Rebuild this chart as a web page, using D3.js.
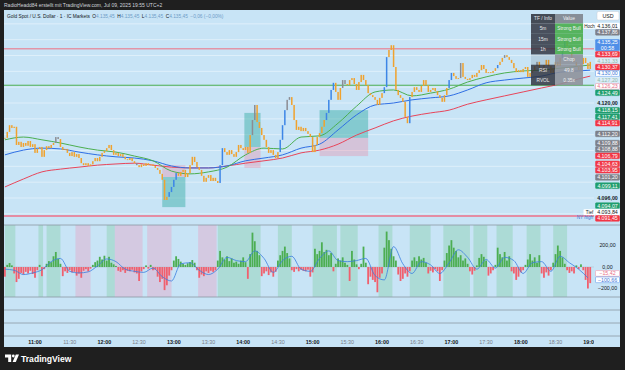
<!DOCTYPE html>
<html>
<head>
<meta charset="utf-8">
<script src="https://cdn.jsdelivr.net/npm/d3@7"></script>
<style>
html, body { margin: 0; padding: 0; background: #1f1f1f; }
svg { display: block; font-family: "Liberation Sans", Arial, sans-serif; }
</style>
</head>
<body>
<svg width="625" height="370"></svg>
<script>
// 2-minute closes starting at 10:34
const candleStart = '10:34';
const closes = [
  4111.2, 4112.7, 4114.4, 4113.7, 4114.0, 4109.4, 4110.2, 4108.9, 4109.9, 4109.2,
  4110.4, 4108.9, 4109.6, 4107.4, 4108.4, 4108.9, 4106.4, 4108.1, 4109.1, 4108.6,
  4109.4, 4109.9, 4111.4, 4110.9, 4108.9, 4108.1, 4108.4, 4107.4, 4106.6, 4107.6,
  4106.4, 4107.1, 4106.1, 4104.8, 4104.3, 4104.8, 4104.1, 4104.5, 4105.3, 4106.1,
  4105.3, 4106.4, 4107.4, 4107.9, 4108.6, 4109.4, 4108.1, 4106.9, 4107.4, 4106.6,
  4107.1, 4106.4, 4105.8, 4105.6, 4106.1, 4105.3, 4104.8, 4104.3, 4103.8, 4104.5,
  4104.1, 4104.8, 4104.3, 4104.5, 4104.1, 4103.6, 4103.1, 4102.1, 4100.6, 4095.5,
  4096.3, 4097.5, 4098.8, 4100.6, 4102.3, 4101.6, 4102.6, 4103.1, 4101.3, 4102.3,
  4104.3, 4106.4, 4105.1, 4103.8, 4103.1, 4101.6, 4100.1, 4101.1, 4101.8, 4100.3,
  4101.1, 4100.3, 4099.8, 4104.3, 4108.6, 4107.6, 4106.9, 4108.1, 4107.1, 4106.4,
  4107.6, 4109.4, 4108.6, 4108.1, 4108.9, 4107.4, 4111.9, 4115.7, 4119.5, 4115.2,
  4113.7, 4111.9, 4110.7, 4108.9, 4107.4, 4108.1, 4106.9, 4106.1, 4107.6, 4110.7,
  4114.4, 4118.2, 4120.8, 4121.5, 4119.5, 4115.7, 4113.2, 4114.0, 4112.9, 4113.7,
  4112.9, 4112.2, 4111.4, 4107.6, 4109.4, 4111.4, 4112.4, 4114.0, 4115.7, 4117.5,
  4120.8, 4123.3, 4125.1, 4122.8, 4120.8, 4123.8, 4125.8, 4124.8, 4124.5, 4125.8,
  4126.3, 4124.8, 4123.3, 4125.3, 4127.1, 4125.8, 4124.5, 4122.5, 4122.0, 4121.5,
  4120.8, 4119.5, 4121.3, 4122.5, 4124.0, 4131.6, 4133.4, 4134.6, 4129.1, 4123.3,
  4122.0, 4121.3, 4120.3, 4116.5, 4114.9, 4121.5, 4122.8, 4124.0, 4123.3, 4122.8,
  4124.3, 4125.8, 4124.5, 4122.8, 4123.3, 4123.8, 4123.0, 4122.0, 4121.3, 4120.3,
  4122.0, 4123.8, 4125.8, 4127.6, 4126.8, 4126.1, 4126.3, 4130.1, 4126.6, 4126.1,
  4125.8, 4126.3, 4127.1, 4126.6, 4127.6, 4128.3, 4129.6, 4128.6, 4127.6, 4127.8,
  4127.6, 4128.1, 4128.8, 4129.6, 4130.4, 4131.4, 4132.1, 4131.6, 4130.9, 4130.1,
  4128.8, 4127.8, 4128.3, 4127.8, 4128.6, 4129.1, 4126.6, 4127.6, 4128.3, 4129.3,
  4130.4, 4128.8, 4127.8, 4129.6, 4130.9, 4129.3, 4127.6, 4128.8, 4130.4, 4129.3,
  4131.4, 4133.9, 4135.9, 4134.4, 4132.6, 4131.4, 4130.4, 4129.3, 4128.3, 4129.8,
  4131.4, 4130.1, 4128.6, 4130.4
];
const blueCandles = [71, 72, 73, 74, 93, 94, 119, 120, 121, 139, 140, 141, 142, 164, 165, 175, 192, 193, 213, 241, 242];
const grayCandles = [22, 23, 57, 107, 108, 122, 123, 146, 147, 197, 216, 230];

// moving averages
const maTimes = ['10:34', '10:50', '11:06', '11:22', '11:38', '11:54', '12:10', '12:26', '12:42', '12:58',
  '13:14', '13:30', '13:46', '14:02', '14:18', '14:34', '14:50', '15:06', '15:22', '15:38', '15:54',
  '16:10', '16:26', '16:42', '16:58', '17:14', '17:30', '17:46', '18:02', '18:18', '18:34', '18:50', '19:00'];
const emaFast = [4110.7, 4111.4, 4110.7, 4109.9, 4108.9, 4108.1, 4107.6, 4106.6, 4105.4, 4102.8,
  4102.1, 4102.6, 4103.8, 4106.9, 4108.6, 4108.4, 4111.4, 4111.7, 4114.9, 4119.2, 4122.8,
  4123.3, 4121.8, 4122.5, 4123.5, 4125.3, 4126.6, 4127.6, 4128.1, 4128.3, 4128.8, 4129.3, 4129.6];
const emaMid = [4106.9, 4108.1, 4108.6, 4108.4, 4107.6, 4106.9, 4106.4, 4106.1, 4105.4, 4104.1,
  4103.6, 4103.6, 4104.1, 4105.4, 4106.1, 4106.9, 4108.6, 4109.6, 4113.2, 4117.0, 4119.5,
  4120.0, 4120.8, 4121.3, 4121.8, 4123.3, 4125.1, 4125.8, 4126.3, 4126.8, 4127.8, 4128.1, 4128.3];
const emaSlow = [4098.8, 4100.8, 4102.6, 4103.3, 4103.8, 4104.3, 4104.6, 4104.8, 4104.3, 4103.8,
  4103.6, 4103.6, 4104.1, 4104.8, 4105.4, 4106.1, 4107.4, 4108.1, 4109.6, 4111.9, 4113.7,
  4115.5, 4116.7, 4117.5, 4118.2, 4119.7, 4120.8, 4121.8, 4122.8, 4123.8, 4124.8, 4126.1, 4126.8];

// horizontal levels
const levelPrices = [4133.69, 4124.49, 4091.45];
const levelKinds = ['res', 'sup', 'ny'];

// position tools
const posFrom = ['12:50', '14:01', '15:06'];
const posTo = ['13:10', '14:15', '15:48'];
const posEntry = [4101.3, 4108.9, 4111.2];
const posStop = [4104.3, 4103.6, 4106.6];
const posTarget = [4093.7, 4117.5, 4118.2];

// oscillator (2-minute bars from 10:34), signal every 8 minutes
const histStart = '10:34';
const histValues = [
  -90, 20, 37, 15, -60, -140, -110, -55, -70, -45,
  -60, -35, -65, -100, -30, 20, -85, -20, 30, 55,
  45, 100, 140, 75, 30, -85, -40, -55, -30, -50,
  -45, -80, -60, -100, -35, -20, -40, -15, 20, 45,
  60, 95, 70, 105, 60, 95, 40, 25, 10, -35,
  -45, -30, -55, -35, -40, -25, -50, -60, -130, -40,
  -20, 15, -15, 20, -30, -25, -90, -140, -110, -215,
  -170, -80, -30, 60, 100, 75, 50, 30, 20, 35,
  45, 65, 40, -30, -100, -70, -85, -40, -55, -35,
  -45, -30, 60, 150, 90, 70, 100, 55, 80, 40,
  50, 30, 60, 90, 45, -110, 120, 320, 240, 150,
  110, -85, -60, -40, -75, -50, -90, -45, 60, 110,
  150, 190, 130, 80, -30, -45, -20, -40, -25, -35,
  -40, -25, -90, -50, 170, 120, 150, 230, 140, 160,
  110, 130, -40, 30, 80, 60, 90, 40, 20, -130,
  150, 70, 25, -20, 30, 190, 40, -160, -90, -120,
  -140, -235, -100, -60, 180, 330, 250, 170, 100, 60,
  -70, -130, -110, -60, -90, -40, 60, 90, 55, 100,
  70, 85, 40, -60, -35, -50, -20, -40, -130, -30,
  60, 130, 200, 250, 180, 150, 90, 110, 60, 80,
  30, -40, -70, -35, 15, 85, 120, 95, 60, -80,
  -60, -30, 20, 180, 120, 90, 140, 60, 100, -40,
  -60, -120, -90, -50, -30, 20, 70, 120, 60, 90,
  40, 110, -60, -100, -50, -80, -30, 40, 120, 200,
  150, 90, 30, -30, -55, -40, -60, 15, -20, 25,
  -30, -120, -200, -150
];
const signalStart = '10:34';
const signalValues = [-20, -30, -70, -55, -25, 50, 80, -40, -55, -45, 10, 75, 50, -20, -40, -50,
  -10, -90, -130, 30, 40, -30, -70, -20, 90, 60, 50, 150, 80, -50, 60, 100, -20, -40, 80, 150,
  60, 50, 60, 80, -80, -120, 190, 30, -60, 50, 20, -60, 40, 160, 90, -20, 70, -10, 90, 60,
  -60, 40, 50, -40, 100, 40, -20, -100];
const bandFrom = ['10:34', '11:03', '11:10', '11:35', '12:02', '12:09', '12:37', '13:21', '13:38', '14:30',
  '15:00', '15:24', '15:57', '16:24', '16:53', '17:19', '17:39', '18:05', '18:28'];
const bandTo = ['10:43', '11:07', '11:22', '11:48', '12:09', '12:33', '12:58', '13:37', '14:15', '14:42',
  '15:21', '15:39', '16:09', '16:42', '17:16', '17:31', '17:53', '18:17', '18:40'];
const bandKind = ['bull', 'bull', 'bull', 'bear', 'bull', 'bear', 'bear', 'bear', 'bull', 'bull',
  'bull', 'bull', 'bull', 'bull', 'bull', 'bull', 'bull', 'bull', 'bull'];
const oscTicks = [200, 0, -200];
const oscLast = [-15.42, -100.66];
const oscLastKinds = ['pinkring', 'ring'];

// price scale labels
const axisLabelPrices = [4136.01, 4137.86, 4135.25, 4133.69, 4131.33, 4130.37, 4130.00, 4127.20, 4126.23,
  4124.49, 4120.00, 4118.15, 4117.41, 4114.91, 4112.20, 4109.88, 4108.88, 4106.79, 4104.63, 4103.95,
  4101.20, 4099.11, 4096.00, 4094.07, 4093.84, 4091.45];
const axisLabelKinds = ['high', 'gray', 'last', 'red', 'faint', 'red', 'ring', 'faint', 'pinkring',
  'green', 'tick', 'green', 'green', 'red', 'gray', 'gray', 'gray', 'red', 'red', 'red',
  'gray', 'green', 'tick', 'green', 'low', 'red'];
const axisLabelTags = ['Hoch', '', '', '', '', '', '', '', '', '', '', '', '', '', '', '', '', '', '',
  '', '', '', '', '', 'Tief', 'NY high'];

// info table
const tableKeys = ['5m', '15m', '1h', '', 'RSI', 'RVOL'];
const tableValues = ['Strong Bull', 'Strong Bull', 'Strong Bull', 'Chop', '49.8', '0.35x'];
const tableStates = ['bull', 'bull', 'bull', 'neutral', 'neutral', 'neutral'];

const ohlc = ['4.135,45', '4.135,45', '4.135,45', '4.135,45'];

const svg = d3.select('svg');
const at = s => new Date(`2025-07-09T${s.length === 5 ? s + ':00' : s}`);
const stepTime = (start, minutes, i) => d3.timeMinute.offset(at(start), minutes * i);

const x = d3.scaleTime().domain([at('10:33:12'), at('19:03:16')]).range([4, 594]);
const yP = d3.scaleLinear().domain([4089.18, 4143.5]).range([225, 10]);
const yO = d3.scaleLinear().domain([-279, 391]).range([297, 225]);
const de = d3.formatLocale({ decimal: ',', thousands: '.', grouping: [3], currency: ['', ''] });
const fmt = de.format(',.2f');
const minus = s => s.replace('-', '\u2212');

const bg = '#c8e4f6';
svg.append('rect').attr('width', 625).attr('height', 370).attr('fill', '#1f1f1f');
svg.append('rect').attr('x', 4).attr('y', 10).attr('width', 616).attr('height', 337).attr('fill', bg);

const defs = svg.append('defs');
defs.append('clipPath').attr('id', 'pp').append('rect').attr('x', 4).attr('y', 10).attr('width', 590).attr('height', 215);
defs.append('clipPath').attr('id', 'op').append('rect').attr('x', 4).attr('y', 225).attr('width', 590).attr('height', 72);
defs.append('clipPath').attr('id', 'ta').append('rect').attr('x', 4).attr('y', 336).attr('width', 590).attr('height', 11);

// price pane
const pp = svg.append('g').attr('clip-path', 'url(#pp)');

pp.selectAll('line.grid')
  .data(d3.range(4092, 4144, 4))
  .enter()
  .append('line')
  .attr('class', 'grid')
  .attr('x1', 4).attr('x2', 594)
  .attr('y1', d => yP(d)).attr('y2', d => yP(d))
  .style('stroke', '#e8f4fc')
  .style('stroke-width', '0.7px');

const levelColor = { res: '#ef6f80', sup: '#4caf50', ny: '#ee7088' };
pp.selectAll('line.level')
  .data(levelPrices)
  .enter()
  .append('line')
  .attr('class', 'level')
  .attr('x1', 4).attr('x2', 594)
  .attr('y1', d => yP(d)).attr('y2', d => yP(d))
  .style('stroke', (d, i) => levelColor[levelKinds[i]])
  .style('stroke-width', (d, i) => levelKinds[i] === 'ny' ? '1.4px' : '1px');

posFrom.forEach((from, i) => {
  const x0 = x(at(from));
  const x1 = x(at(posTo[i]));
  pp.append('rect')
    .attr('x', x0).attr('width', x1 - x0)
    .attr('y', yP(Math.max(posEntry[i], posTarget[i])))
    .attr('height', Math.abs(yP(posEntry[i]) - yP(posTarget[i])))
    .style('fill', 'rgba(38,166,154,0.42)');
  pp.append('rect')
    .attr('x', x0).attr('width', x1 - x0)
    .attr('y', yP(Math.max(posEntry[i], posStop[i])))
    .attr('height', Math.abs(yP(posEntry[i]) - yP(posStop[i])))
    .style('fill', 'rgba(242,120,150,0.3)');
});

const maLine = d3.line()
  .x((d, i) => x(at(maTimes[i])))
  .y(d => yP(d))
  .curve(d3.curveMonotoneX);

[[emaSlow, '#e8455a'], [emaMid, '#2f6fe4'], [emaFast, '#4caf50']].forEach(([vals, color]) => {
  pp.append('path')
    .attr('d', maLine(vals))
    .style('fill', 'none')
    .style('stroke', color)
    .style('stroke-width', '1px');
});

const candleColor = i => blueCandles.includes(i) ? '#3d86e6' : grayCandles.includes(i) ? '#8c8c92' : '#f0a22e';
pp.selectAll('rect.candle')
  .data(closes)
  .enter()
  .append('rect')
  .attr('class', 'candle')
  .attr('x', (d, i) => x(stepTime(candleStart, 2, i)) - 0.75)
  .attr('width', 1.5)
  .attr('y', (d, i) => yP(Math.max(d, i ? closes[i - 1] : d)))
  .attr('height', (d, i) => Math.max(0.9, Math.abs(yP(d) - yP(i ? closes[i - 1] : d))))
  .style('fill', (d, i) => candleColor(i));

// oscillator pane
const op = svg.append('g').attr('clip-path', 'url(#op)');
bandFrom.forEach((from, i) => {
  op.append('rect')
    .attr('x', x(at(from))).attr('width', x(at(bandTo[i])) - x(at(from)))
    .attr('y', 225).attr('height', 72)
    .style('fill', bandKind[i] === 'bull' ? 'rgba(110,200,140,0.3)' : 'rgba(235,150,185,0.34)');
});
op.append('line')
  .attr('x1', 4).attr('x2', 594).attr('y1', yO(0)).attr('y2', yO(0))
  .style('stroke', '#b0c4d0').style('stroke-width', '0.6px');
op.selectAll('rect.hist')
  .data(histValues)
  .enter()
  .append('rect')
  .attr('class', 'hist')
  .attr('x', (d, i) => x(stepTime(histStart, 2, i)) - 0.9)
  .attr('width', 1.8)
  .attr('y', d => yO(Math.max(0, d)))
  .attr('height', d => Math.abs(yO(d) - yO(0)))
  .style('fill', d => d >= 0 ? '#4cae52' : '#f0606e');
op.append('path')
  .attr('d', d3.line()
    .x((d, i) => x(stepTime(signalStart, 8, i)))
    .y(d => yO(d))
    .curve(d3.curveMonotoneX)(signalValues))
  .style('fill', 'none')
  .style('stroke', '#3a7de0')
  .style('stroke-width', '0.8px');

// pane separators
[225, 297, 310, 323, 336].forEach(y => {
  svg.append('line').attr('x1', 4).attr('x2', 620).attr('y1', y).attr('y2', y)
    .style('stroke', '#8a98a3').style('stroke-width', '0.8px');
});

// time axis
const ta = svg.append('g').attr('clip-path', 'url(#ta)');
ta.selectAll('text')
  .data(x.ticks(d3.timeMinute.every(30)))
  .enter()
  .append('text')
  .attr('x', d => x(d))
  .attr('y', 343.5)
  .attr('text-anchor', 'middle')
  .style('font-size', '5.4px')
  .style('font-weight', d => d.getMinutes() === 0 ? 'bold' : 'normal')
  .style('fill', d => d.getMinutes() === 0 ? '#131722' : '#7a7e88')
  .text(d3.timeFormat('%H:%M'));

// info table
const tx0 = 531, tx1 = 555, tx2 = 583, ty0 = 14, hh = 9.5, rh = 10.3;
const tbl = svg.append('g').style('font-size', '4.8px');
tbl.append('rect').attr('x', tx0).attr('y', ty0).attr('width', tx1 - tx0).attr('height', hh).style('fill', 'rgba(45,48,58,0.85)');
tbl.append('rect').attr('x', tx1).attr('y', ty0).attr('width', tx2 - tx1).attr('height', hh).style('fill', 'rgba(128,132,142,0.9)');
tbl.append('text').attr('x', (tx0 + tx1) / 2).attr('y', ty0 + 6.2).attr('text-anchor', 'middle').style('fill', '#e8e8ec').text('TF / Info');
tbl.append('text').attr('x', (tx1 + tx2) / 2).attr('y', ty0 + 6.2).attr('text-anchor', 'middle').style('fill', '#f0f0f2').text('Value');
tableKeys.forEach((k, i) => {
  const ry = ty0 + hh + i * rh;
  tbl.append('rect').attr('x', tx0).attr('y', ry).attr('width', tx1 - tx0).attr('height', rh)
    .style('fill', k ? 'rgba(45,48,58,0.82)' : 'rgba(45,48,58,0.12)');
  tbl.append('rect').attr('x', tx1).attr('y', ry).attr('width', tx2 - tx1).attr('height', rh)
    .style('fill', tableStates[i] === 'bull' ? 'rgba(76,175,80,0.92)' : 'rgba(140,144,152,0.88)');
  tbl.append('text').attr('x', (tx0 + tx1) / 2).attr('y', ry + 6.8).attr('text-anchor', 'middle').style('fill', '#e8e8ec').text(k);
  tbl.append('text').attr('x', (tx1 + tx2) / 2).attr('y', ry + 6.8).attr('text-anchor', 'middle').style('fill', '#eef0f2').text(tableValues[i]);
});

// price axis labels
const labStyle = {
  high: ['#ffffff', '#ffffff', '#131722'],
  low: ['#ffffff', '#ffffff', '#131722'],
  gray: ['#7e8089', '#7e8089', '#ffffff'],
  last: ['#4f8fe8', '#4f8fe8', '#ffffff'],
  red: ['#f23645', '#f23645', '#ffffff'],
  green: ['#1f9e6e', '#1f9e6e', '#ffffff'],
  faint: ['#dcedf8', '#dcedf8', '#8fb9a8'],
  ring: ['#ffffff', '#4f8fe8', '#3a78d8'],
  pinkring: ['#ffffff', '#f08aa0', '#e86c86'],
  tick: ['none', 'none', '#131722']
};
const labs = axisLabelPrices.map((p, i) => {
  const kind = axisLabelKinds[i];
  return { p, kind, tag: axisLabelTags[i], t: yP(p) + (kind === 'last' ? 2.5 : 0), h: kind === 'last' ? 12 : 6.4 };
});
const anchor = labs.findIndex(d => d.kind === 'last');
labs[anchor].y = labs[anchor].t;
for (let i = anchor + 1; i < labs.length; i++) {
  labs[i].y = Math.max(labs[i].t, labs[i - 1].y + (labs[i - 1].h + labs[i].h) / 2);
}
for (let i = anchor - 1; i >= 0; i--) {
  labs[i].y = Math.min(labs[i].t, labs[i + 1].y - (labs[i + 1].h + labs[i].h) / 2);
}

const ax = svg.append('g').style('font-size', '5.3px');
ax.append('rect').attr('x', 597).attr('y', 11.5).attr('width', 22).attr('height', 8.5).attr('rx', 1.5)
  .style('fill', '#ffffff').style('stroke', '#c9ced6').style('stroke-width', '0.5px');
ax.append('text').attr('x', 608).attr('y', 17.6).attr('text-anchor', 'middle').style('fill', '#131722').text('USD');

labs.forEach(d => {
  const [fill, stroke, color] = labStyle[d.kind];
  if (d.kind !== 'tick') {
    ax.append('rect')
      .attr('x', 595.5).attr('y', d.y - d.h / 2 + 0.35).attr('width', 24).attr('height', d.h - 0.7).attr('rx', 0.8)
      .style('fill', fill).style('stroke', stroke).style('stroke-width', '0.5px');
  }
  if (d.kind === 'last') {
    ax.append('text').attr('x', 607.5).attr('y', d.y - 1.2).attr('text-anchor', 'middle').style('fill', color).text(fmt(d.p));
    ax.append('text').attr('x', 607.5).attr('y', d.y + 4.4).attr('text-anchor', 'middle').style('fill', color).text('00:58');
  } else {
    ax.append('text').attr('x', 607.5).attr('y', d.y + 1.9).attr('text-anchor', 'middle')
      .style('fill', color).style('font-weight', d.kind === 'tick' ? 'bold' : 'normal').text(fmt(d.p));
  }
  if (d.tag === 'Hoch' || d.tag === 'Tief') {
    ax.append('rect').attr('x', 583.5).attr('y', d.y - 2.9).attr('width', 12).attr('height', 5.8).attr('rx', 0.8).style('fill', '#ffffff');
    ax.append('text').attr('x', 589.5).attr('y', d.y + 1.7).attr('text-anchor', 'middle')
      .style('font-size', '4.6px').style('fill', '#131722').text(d.tag);
  } else if (d.tag) {
    ax.append('text').attr('x', 593).attr('y', d.y + 0.5).attr('text-anchor', 'end')
      .style('font-size', '4.6px').style('fill', '#3a78d8').text(d.tag);
  }
});

// oscillator scale labels
oscTicks.forEach(v => {
  ax.append('text').attr('x', 607.5).attr('y', yO(v) + 1.9).attr('text-anchor', 'middle')
    .style('fill', '#131722').text(minus(fmt(v)));
});
let prevY = yO(0);
oscLast.forEach((v, i) => {
  const y = Math.max(yO(v), prevY + 6.4);
  prevY = y;
  const [fill, stroke, color] = labStyle[oscLastKinds[i]];
  ax.append('rect').attr('x', 595.5).attr('y', y - 2.85).attr('width', 24).attr('height', 5.7).attr('rx', 0.8)
    .style('fill', fill).style('stroke', stroke).style('stroke-width', '0.5px');
  ax.append('text').attr('x', 607.5).attr('y', y + 1.9).attr('text-anchor', 'middle').style('fill', color).text(minus(fmt(v)));
});

// header texts
svg.append('text').attr('x', 4).attr('y', 7).style('font-size', '5px').style('fill', '#d1d4dc')
  .text('RadioHeadd84 erstellt mit TradingView.com, Jul 09, 2025 19:55 UTC+2');
const title = svg.append('text').attr('x', 7).attr('y', 18.2).style('font-size', '4.8px').style('fill', '#131722');
title.append('tspan').text('Gold Spot / U.S. Dollar \u00b7 1 \u00b7 IC Markets ');
['O', 'H', 'L', 'C'].forEach((k, i) => {
  title.append('tspan').attr('dx', i ? 2.5 : 1).text(k);
  title.append('tspan').style('fill', '#6e9cc8').text(ohlc[i]);
});
title.append('tspan').attr('dx', 2.5).style('fill', '#6e9cc8').text('\u22120,06 (\u22120,00%)');

// footer logo
const logo = svg.append('g').style('fill', '#ffffff');
logo.append('path').attr('d', 'M5,354.5h6.2v7.5h-3v-4.6h-3.2z');
logo.append('circle').attr('cx', 13.3).attr('cy', 356).attr('r', 1.4);
logo.append('path').attr('d', 'M12.6,362l3.2,-7.5h3.2l-3.2,7.5z');
svg.append('text').attr('x', 21).attr('y', 361.6).style('font-size', '8.6px').style('font-weight', 'bold')
  .style('fill', '#ffffff').text('TradingView');
</script>
</body>
</html>
